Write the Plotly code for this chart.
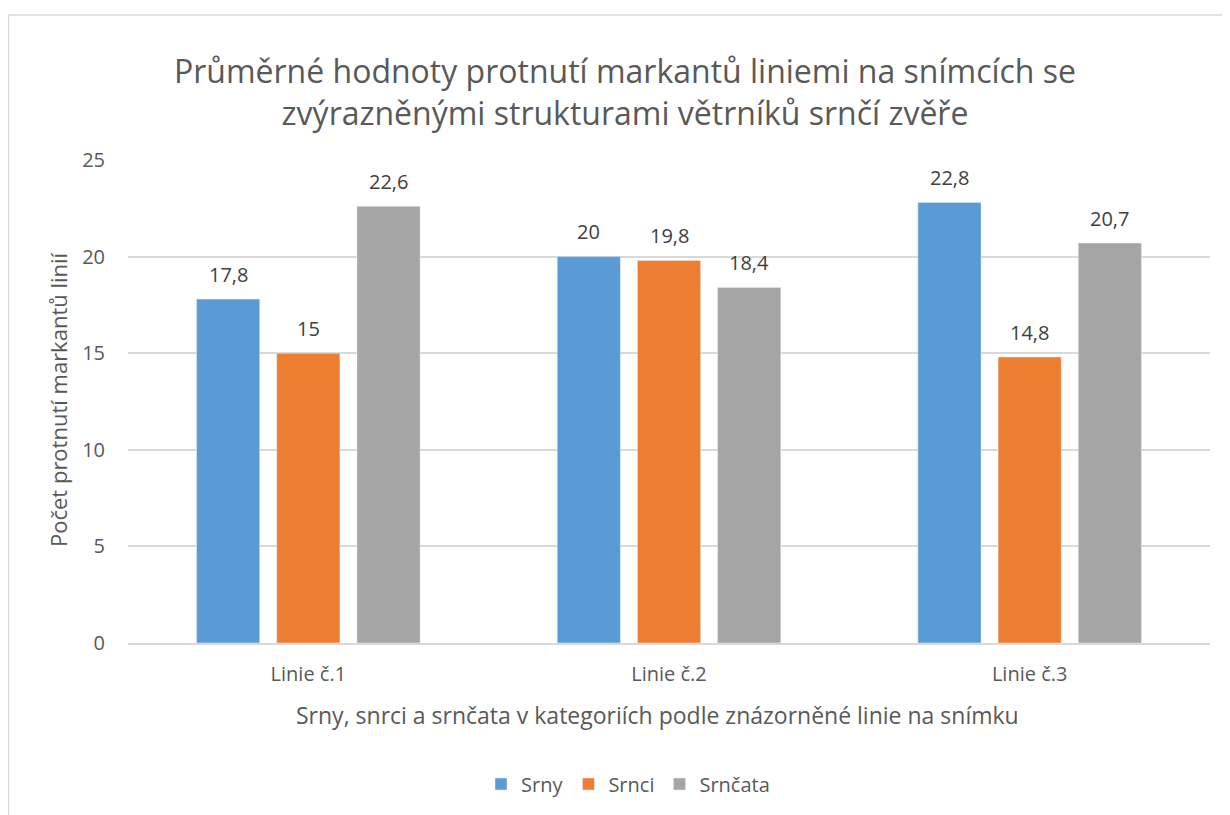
import plotly.graph_objects as go

categories = ["Linie č.1", "Linie č.2", "Linie č.3"]
srny = [17.8, 20, 22.8]
srnci = [15, 19.8, 14.8]
srncata = [22.6, 18.4, 20.7]
series_names = ["Srny", "Srnci", "Srnčata"]
colors = ["#5B9BD5", "#ED7D31", "#A5A5A5"]
y_ticks = [0, 5, 10, 15, 20, 25]

FONT = "Open Sans"
TXT = "#595959"

def fmt(v):
    return ("%g" % v).replace(".", ",")

BARGAP = 0.333
GROUPGAP = 0.2125

fig = go.Figure()
for name, vals, col in zip(series_names, [srny, srnci, srncata], colors):
    fig.add_trace(go.Bar(x=categories, y=vals, name=name, marker_color=col))

# page body has an 8px margin; work in reference pixels and shift
OFF = 8
W, H = 1222, 807
L, R, T, B = 120, 20, 152, 172
pw, ph = W - L - R, H - T - B

def px2x(p):
    return (p - OFF - L) / pw

def py2y(p):
    return (H - B - (p - OFF)) / ph

annotations = []
slot = (1 - BARGAP) / 3
for k, vals in enumerate([srny, srnci, srncata]):
    for i, v in enumerate(vals):
        annotations.append(dict(
            x=i + (k - 1) * slot, y=v, xref="x", yref="y",
            text=fmt(v), showarrow=False, yanchor="middle", yshift=25,
            font=dict(family=FONT, size=20, color="#404040"),
        ))

annotations.append(dict(
    x=px2x(657), y=py2y(715), xref="paper", yref="paper",
    text="Srny, snrci a srnčata v kategoriích podle znázorněné linie na snímku",
    showarrow=False, xanchor="center", yanchor="middle",
    font=dict(family=FONT, size=23, color=TXT),
))
annotations.append(dict(
    x=px2x(58), y=py2y(400), xref="paper", yref="paper",
    text="Počet protnutí markantů linií", textangle=-90,
    showarrow=False, xanchor="center", yanchor="middle",
    font=dict(family=FONT, size=22, color=TXT),
))

fig.add_shape(type="rect", xref="paper", yref="paper",
              x0=px2x(8.5), x1=px2x(1260), y0=py2y(840), y1=py2y(15),
              line=dict(color="#D9D9D9", width=1.5), layer="below")

fig.update_layout(
    width=W, height=H,
    margin=dict(l=L, r=R, t=T, b=B),
    plot_bgcolor="white", paper_bgcolor="white",
    barmode="group", bargap=BARGAP, bargroupgap=GROUPGAP,
    font=dict(family=FONT, color=TXT),
    title=dict(
        text="Průměrné hodnoty protnutí markantů liniemi na snímcích se<br>zvýrazněnými strukturami větrníků srnčí zvěře",
        x=(625 - OFF) / W, xanchor="center", xref="container",
        y=1 - (83 - OFF) / H, yanchor="middle", yref="container",
        font=dict(family=FONT, size=32, color=TXT),
    ),
    yaxis=dict(
        range=[0, 25], tickvals=y_ticks, showgrid=True, gridcolor="#D9D9D9",
        gridwidth=1.5, zeroline=False, showline=False,
        tickfont=dict(family=FONT, size=20, color=TXT),
        ticklabelstandoff=22,
    ),
    xaxis=dict(
        showline=True, linecolor="#D9D9D9", linewidth=1.5,
        tickfont=dict(family=FONT, size=20, color=TXT),
        ticklabelstandoff=12,
    ),
    legend=dict(orientation="h", x=px2x(628), xanchor="center", y=py2y(784), yanchor="middle",
                font=dict(family=FONT, size=20, color=TXT),
                itemwidth=30, traceorder="normal"),
    showlegend=True,
    annotations=annotations,
)

fig.write_html("out.html")
